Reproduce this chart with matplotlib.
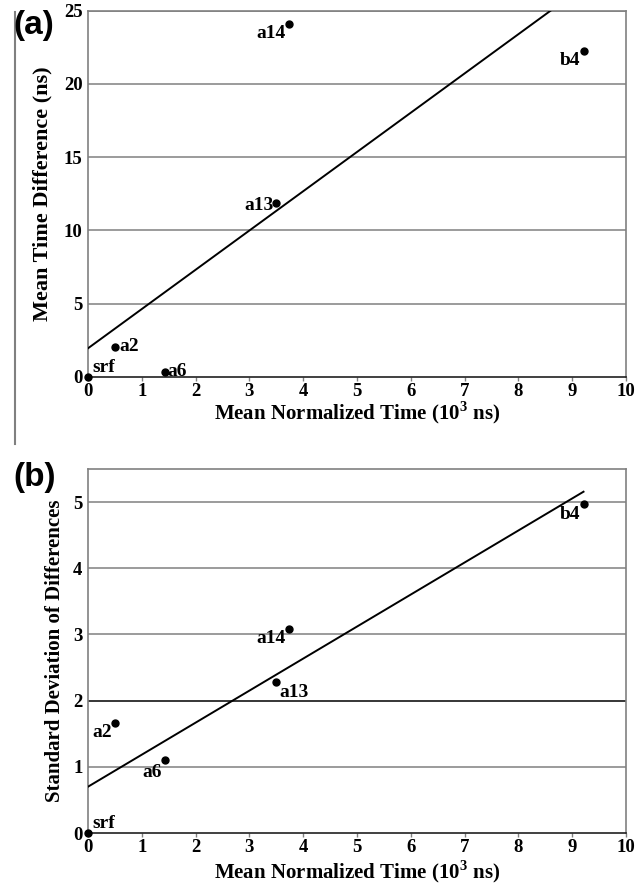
import matplotlib
matplotlib.use("Agg")
import matplotlib.pyplot as plt
from matplotlib.lines import Line2D
import numpy as np

names = ["srf", "a2", "a6", "a13", "a14", "b4"]
x_time = [0.0, 0.50, 1.43, 3.50, 3.73, 9.21]
y_mean_diff = [0.0, 2.05, 0.35, 11.9, 24.1, 22.25]
y_std_diff = [0.0, 1.67, 1.10, 2.28, 3.09, 4.97]
fit_a = (1.96, 2.68)   # intercept, slope
fit_b = (0.70, 0.484)

serif = "Liberation Serif"
plt.rcParams["mathtext.fontset"] = "custom"
plt.rcParams["mathtext.rm"] = "Liberation Serif:bold"
plt.rcParams["mathtext.bf"] = "Liberation Serif:bold"

fig = plt.figure(figsize=(6.43, 8.86), dpi=100)

# label placements: (dx, dy in points, ha, va)
place_a = {"srf": (3, 1, "left", "bottom"), "a2": (3, 0, "left", "center"),
           "a6": (2, 0, "left", "center"), "a13": (-2, -2, "right", "center"),
           "a14": (-2, -1, "right", "top"), "b4": (-2, -1, "right", "top")}
place_b = {"srf": (3, 1, "left", "bottom"), "a2": (-2, -1, "right", "top"),
           "a6": (-2, -3, "right", "top"), "a13": (2, -1, "left", "top"),
           "a14": (-2, -1, "right", "top"), "b4": (-2, -1, "right", "top")}


def setup(ax, ymax, yticks, ylabel, place, ys, fit, dark_line=None):
    ax.set_xlim(0, 10)
    ax.set_ylim(0, ymax)
    ax.set_xticks(range(0, 11))
    ax.set_yticks(yticks)
    for s in ["top", "right", "left"]:
        ax.spines[s].set_color("#808080")
        ax.spines[s].set_linewidth(1.2)
    ax.spines["bottom"].set_color("#202020")
    ax.spines["bottom"].set_linewidth(1.2)
    for yv in yticks[1:]:
        c = "black" if (dark_line is not None and yv == dark_line) else "#808080"
        ax.axhline(yv, color=c, lw=1.1, zorder=1)
    ax.tick_params(axis="x", length=3, width=1, color="#808080", pad=1)
    ax.tick_params(axis="y", length=0, pad=4)
    for lab in ax.get_xticklabels() + ax.get_yticklabels():
        lab.set_fontfamily(serif)
        lab.set_fontweight("bold")
        lab.set_fontsize(13.5)
    xs_fit = np.array([0.0, max(x_time)])
    ax.plot(xs_fit, fit[0] + fit[1] * xs_fit, color="black", lw=1.4, zorder=3)
    ax.plot(x_time, ys, "o", color="black", ms=5, zorder=4, clip_on=False)
    for n, xv, yv in zip(names, x_time, ys):
        dx, dy, ha, va = place[n]
        ax.annotate(n, (xv, yv), xytext=(dx, dy), textcoords="offset points",
                    ha=ha, va=va, fontfamily=serif, fontweight="bold", fontsize=14)
    ax.set_xlabel("Mean Normalized Time (10$^{\\mathbf{3}}$ ns)", fontfamily=serif,
                  fontweight="bold", fontsize=15, labelpad=6)
    ax.set_ylabel(ylabel, fontfamily=serif, fontweight="bold", fontsize=15, labelpad=8)


ax1 = fig.add_axes([0.1369, 0.5745, 0.8367, 0.4134])
setup(ax1, 25, [0, 5, 10, 15, 20, 25], "Mean Time Difference (ns)", place_a,
      y_mean_diff, fit_a)
ax1.xaxis.labelpad = 0
ax1.yaxis.label.set_fontsize(16)

ax2 = fig.add_axes([0.1369, 0.0598, 0.8367, 0.4108])
setup(ax2, 5.5, [0, 1, 2, 3, 4, 5], "Standard Deviation of Differences", place_b,
      y_std_diff, fit_b, dark_line=2)
ax2.xaxis.labelpad = 2
ax2.yaxis.labelpad = 6

fig.text(13 / 643, 1 - 10 / 886, "(a)", fontfamily="Liberation Sans", fontweight="bold",
         fontsize=24, ha="left", va="top")
fig.text(13 / 643, 1 - 462 / 886, "(b)", fontfamily="Liberation Sans", fontweight="bold",
         fontsize=24, ha="left", va="top")
fig.add_artist(Line2D([15 / 643, 15 / 643], [1 - 12 / 886, 1 - 444 / 886],
                      color="#808080", lw=1.5, transform=fig.transFigure))

fig.savefig("out.png", dpi=100)
